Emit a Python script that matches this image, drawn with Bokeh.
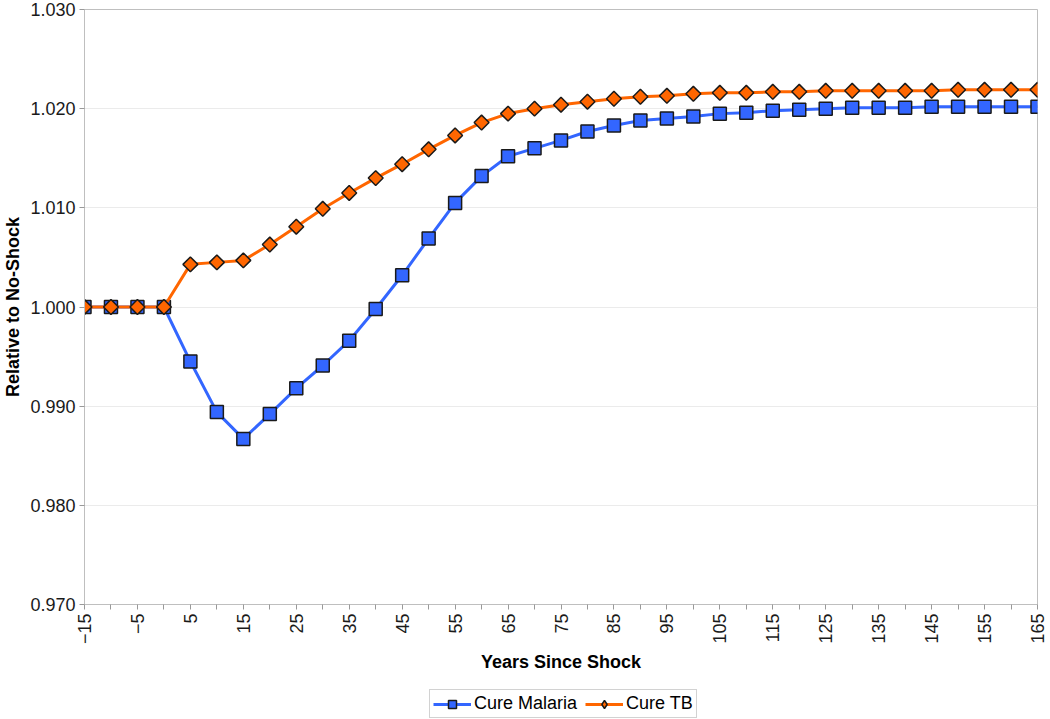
import math
from bokeh.plotting import figure
from bokeh.layouts import column
from bokeh.models import Range1d, FixedTicker, NumeralTickFormatter, Legend, LegendItem
from bokeh.embed import file_html
from bokeh.resources import INLINE

years = [-15, -10, -5, 0, 5, 10, 15, 20, 25, 30, 35, 40, 45, 50, 55, 60, 65, 70, 75,
         80, 85, 90, 95, 100, 105, 110, 115, 120, 125, 130, 135, 140, 145, 150, 155, 160, 165]

cure_malaria = [1.0000, 1.0000, 1.0000, 1.0000, 0.9945, 0.9894, 0.9867, 0.9892, 0.9918,
                0.9941, 0.9966, 0.9998, 1.0032, 1.0069, 1.0105, 1.0132, 1.0152, 1.0160,
                1.0168, 1.0177, 1.0183, 1.0188, 1.0190, 1.0192, 1.0195, 1.0196, 1.0198,
                1.0199, 1.0200, 1.0201, 1.0201, 1.0201, 1.0202, 1.0202, 1.0202, 1.0202, 1.0202]

cure_tb = [1.0000, 1.0000, 1.0000, 1.0000, 1.0043, 1.0045, 1.0047, 1.0063, 1.0081,
           1.0099, 1.0115, 1.0130, 1.0144, 1.0159, 1.0173, 1.0186, 1.0195, 1.0200,
           1.0204, 1.0207, 1.0210, 1.0212, 1.0213, 1.0215, 1.0216, 1.0216, 1.0217,
           1.0217, 1.0218, 1.0218, 1.0218, 1.0218, 1.0218, 1.0219, 1.0219, 1.0219, 1.0219]

series_names = ["Cure Malaria", "Cure TB"]

x_labelled_ticks = [-15, -5, 5, 15, 25, 35, 45, 55, 65, 75, 85, 95, 105, 115, 125, 135, 145, 155, 165]
x_unlabelled_ticks = [-10, 0, 10, 20, 30, 40, 50, 60, 70, 80, 90, 100, 110, 120, 130, 140, 150, 160]
y_ticks = [0.970, 0.980, 0.990, 1.000, 1.010, 1.020, 1.030]

FONT = "Liberation Sans"
FS = "18px"
BLUE = "#3366FF"
ORANGE = "#FF6600"
GREY = "#BFBFBF"
EDGE = "#1a1a1a"

p = figure(width=1050, height=680, output_backend="svg", toolbar_location=None,
           x_range=Range1d(-15, 165), y_range=Range1d(0.970, 1.030),
           min_border_left=76, min_border_right=13, min_border_top=9, min_border_bottom=76)

p.outline_line_color = GREY
p.outline_line_width = 1
p.background_fill_color = "white"
p.border_fill_color = "white"

p.xgrid.visible = False
p.ygrid.grid_line_color = "#EBEBEB"
p.ygrid.grid_line_width = 1
p.ygrid.ticker = FixedTicker(ticks=y_ticks)

# X axis
p.xaxis.ticker = FixedTicker(ticks=x_labelled_ticks, minor_ticks=x_unlabelled_ticks)
p.xaxis.major_label_orientation = math.pi / 2
p.xaxis.axis_label = "Years Since Shock"
p.xaxis.major_tick_out = 5
p.xaxis.major_tick_in = 0
p.xaxis.minor_tick_out = 5
p.xaxis.minor_tick_in = 0

# Y axis
p.yaxis.ticker = FixedTicker(ticks=y_ticks)
p.yaxis.formatter = NumeralTickFormatter(format="0.000")
p.yaxis.axis_label = "Relative to No-Shock"
p.yaxis.major_tick_out = 5
p.yaxis.major_tick_in = 0
p.yaxis.minor_tick_line_color = None

for ax in (p.xaxis[0], p.yaxis[0]):
    ax.axis_line_color = GREY
    ax.major_tick_line_color = "#999999"
    ax.major_label_text_font = FONT
    ax.major_label_text_font_size = FS
    ax.major_label_text_color = "#1a1a1a"
    ax.major_label_standoff = 4
    ax.axis_label_text_font = FONT
    ax.axis_label_text_font_size = FS
    ax.axis_label_text_font_style = "bold"
    ax.axis_label_text_color = "#000000"
    ax.axis_label_standoff = 5
p.xaxis.minor_tick_line_color = "#999999"
p.yaxis.axis_label_standoff = 4

# Series
p.line(years, cure_malaria, line_color=BLUE, line_width=3)
p.scatter(years, cure_malaria, marker="square", size=13, fill_color=BLUE,
          line_color=EDGE, line_width=1.5)
p.line(years, cure_tb, line_color=ORANGE, line_width=3)
p.scatter(years, cure_tb, marker="square", angle=math.pi / 4, size=10.5,
          fill_color=ORANGE, line_color=EDGE, line_width=1.5)

# Legend strip below the chart (its renderers sit outside the visible range)
lg = figure(width=1050, height=39, output_backend="svg", toolbar_location=None,
            x_range=Range1d(0, 1), y_range=Range1d(0, 1),
            min_border_left=0, min_border_right=0, min_border_top=0, min_border_bottom=0)
lg.axis.visible = False
lg.grid.visible = False
lg.outline_line_color = None
lg.border_fill_color = "white"
lg.background_fill_color = "white"

hidden_x = [5, 6]
hidden_y = [5, 5]
ml = lg.line(hidden_x, hidden_y, line_color=BLUE, line_width=3)
ms = lg.scatter(hidden_x, hidden_y, marker="square", size=12, fill_color=BLUE,
                line_color=EDGE, line_width=1.5)
tl = lg.line(hidden_x, hidden_y, line_color=ORANGE, line_width=3)
ts = lg.scatter(hidden_x, hidden_y, marker="diamond", size=18,
                fill_color=ORANGE, line_color=EDGE, line_width=1.5)

legend = Legend(items=[LegendItem(label=series_names[0], renderers=[ml, ms]),
                       LegendItem(label=series_names[1], renderers=[tl, ts])],
                orientation="horizontal", location=(345, 1))
legend.label_text_font = FONT
legend.label_text_font_size = FS
legend.label_text_color = "#000000"
legend.border_line_color = "#A6A6A6"
legend.border_line_width = 1
legend.background_fill_color = "white"
legend.padding = 3
legend.spacing = 8
legend.margin = 0
legend.glyph_width = 38
legend.glyph_height = 20
legend.label_standoff = 3
legend.label_height = 20
lg.add_layout(legend, "center")

open("out.html", "w").write(file_html(column(p, lg, spacing=0), INLINE))
